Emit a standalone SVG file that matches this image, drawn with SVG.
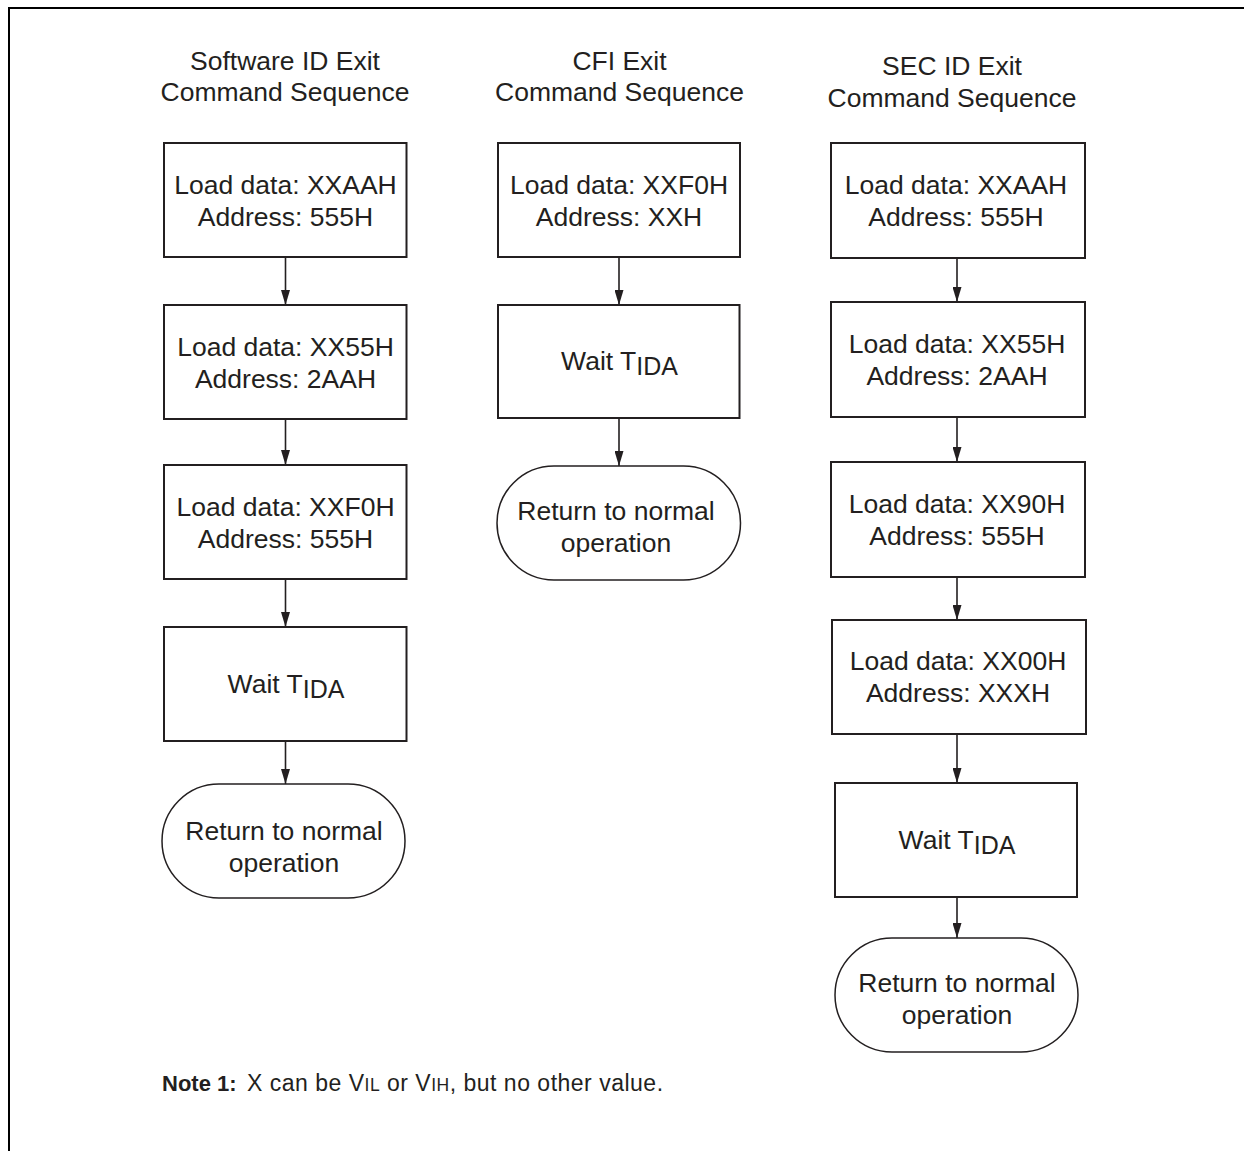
<svg xmlns="http://www.w3.org/2000/svg" width="1244" height="1151" viewBox="0 0 1244 1151">
<style>
  text { font-family: "Liberation Sans", Arial, sans-serif; fill: #231f20; }
  .t { font-size: 26.5px; text-anchor: middle; }
  .box { fill: #ffffff; stroke: #231f20; stroke-width: 2; }
  .conn { stroke: #231f20; stroke-width: 1.6; fill: none; marker-end: url(#arr); }
  .frame { stroke: #000000; stroke-width: 2; fill: none; }
  .noteb { font-size: 22px; font-weight: bold; }
  .note { font-size: 23px; letter-spacing: 0.5px; }
  .sub { font-size: 25px; }
  .sc { font-size: 17.5px; }
</style>
<defs>
  <marker id="arr" markerUnits="userSpaceOnUse" markerWidth="15" markerHeight="9" refX="15" refY="4.5" orient="auto">
    <path d="M0,0 L15,4.5 L0,9 z" fill="#231f20"/>
  </marker>
</defs>
<rect width="1244" height="1151" fill="#ffffff"/>
<path class="frame" d="M9,1151 L9,8 L1244,8"/>

<g id="titles">
  <text class="t" x="285" y="70">Software ID Exit</text>
  <text class="t" x="285" y="101">Command Sequence</text>
  <text class="t" x="619.5" y="70">CFI Exit</text>
  <text class="t" x="619.5" y="101">Command Sequence</text>
  <text class="t" x="952" y="75">SEC ID Exit</text>
  <text class="t" x="952" y="107">Command Sequence</text>
</g>

<g id="connectors">
  <path class="conn" d="M285.5,257 L285.5,305"/>
  <path class="conn" d="M285.5,419 L285.5,465"/>
  <path class="conn" d="M285.5,579 L285.5,627"/>
  <path class="conn" d="M285.5,741 L285.5,784"/>
  <path class="conn" d="M619,257 L619,305"/>
  <path class="conn" d="M619,418 L619,466"/>
  <path class="conn" d="M957,258 L957,302"/>
  <path class="conn" d="M957,417 L957,462"/>
  <path class="conn" d="M957,577 L957,620"/>
  <path class="conn" d="M957,734 L957,783"/>
  <path class="conn" d="M957,897 L957,938"/>
</g>

<!-- Column 1 -->
<g id="sw1">
  <rect class="box" x="164" y="143" width="242.5" height="114"/>
  <text class="t" x="285.5" y="194">Load data: XXAAH</text>
  <text class="t" x="285.5" y="226">Address: 555H</text>
</g>
<g id="sw2">
  <rect class="box" x="164" y="305" width="242.5" height="114"/>
  <text class="t" x="285.5" y="356">Load data: XX55H</text>
  <text class="t" x="285.5" y="388">Address: 2AAH</text>
</g>
<g id="sw3">
  <rect class="box" x="164" y="465" width="242.5" height="114"/>
  <text class="t" x="285.5" y="516">Load data: XXF0H</text>
  <text class="t" x="285.5" y="548">Address: 555H</text>
</g>
<g id="sw4">
  <rect class="box" x="164" y="627" width="242.5" height="114"/>
  <text class="t" x="286" y="693">Wait T<tspan class="sub" dy="5">IDA</tspan></text>
</g>
<g id="sw5">
  <rect class="box" x="162" y="784" width="243" height="114" rx="57" ry="57" style="stroke-width:1.5"/>
  <text class="t" x="284" y="840">Return to normal</text>
  <text class="t" x="284" y="872">operation</text>
</g>

<!-- Column 2 -->
<g id="cfi1">
  <rect class="box" x="498" y="143" width="242" height="114"/>
  <text class="t" x="619" y="194">Load data: XXF0H</text>
  <text class="t" x="619" y="226">Address: XXH</text>
</g>
<g id="cfi2">
  <rect class="box" x="498" y="305" width="241.5" height="113"/>
  <text class="t" x="619.5" y="370">Wait T<tspan class="sub" dy="5">IDA</tspan></text>
</g>
<g id="cfi3">
  <rect class="box" x="497" y="466" width="243.5" height="114" rx="57" ry="57" style="stroke-width:1.5"/>
  <text class="t" x="616" y="520">Return to normal</text>
  <text class="t" x="616" y="552">operation</text>
</g>

<!-- Column 3 -->
<g id="sec1">
  <rect class="box" x="831" y="143" width="254" height="115"/>
  <text class="t" x="956" y="194">Load data: XXAAH</text>
  <text class="t" x="956" y="226">Address: 555H</text>
</g>
<g id="sec2">
  <rect class="box" x="831" y="302" width="254" height="115"/>
  <text class="t" x="957" y="353">Load data: XX55H</text>
  <text class="t" x="957" y="385">Address: 2AAH</text>
</g>
<g id="sec3">
  <rect class="box" x="831" y="462" width="254" height="115"/>
  <text class="t" x="957" y="513">Load data: XX90H</text>
  <text class="t" x="957" y="545">Address: 555H</text>
</g>
<g id="sec4">
  <rect class="box" x="832" y="620" width="254" height="114"/>
  <text class="t" x="958" y="670">Load data: XX00H</text>
  <text class="t" x="958" y="702">Address: XXXH</text>
</g>
<g id="sec5">
  <rect class="box" x="835" y="783" width="242" height="114"/>
  <text class="t" x="957" y="849">Wait T<tspan class="sub" dy="5">IDA</tspan></text>
</g>
<g id="sec6">
  <rect class="box" x="835" y="938" width="243" height="114" rx="57" ry="57" style="stroke-width:1.5"/>
  <text class="t" x="957" y="992">Return to normal</text>
  <text class="t" x="957" y="1024">operation</text>
</g>

<g id="note">
  <text class="noteb" x="162" y="1091">Note 1:</text>
  <text class="note" x="247" y="1091">X can be V<tspan class="sc">IL</tspan> or V<tspan class="sc">IH</tspan>, but no other value.</text>
</g>
</svg>
